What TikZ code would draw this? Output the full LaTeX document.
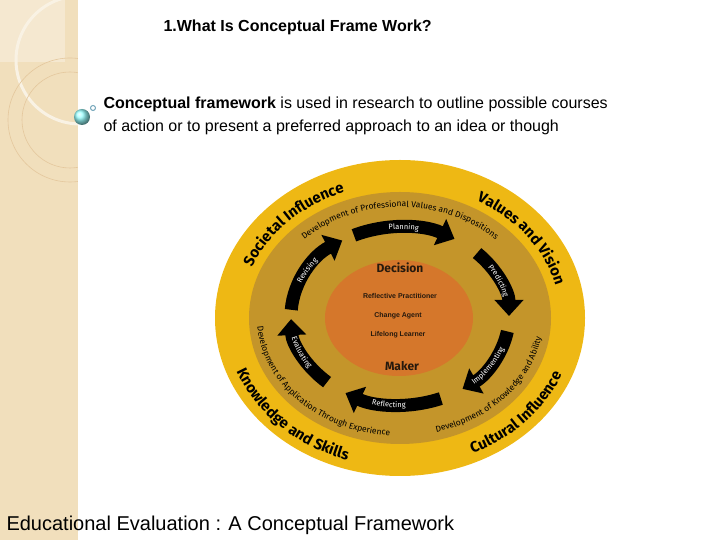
\documentclass[tikz,border=0pt]{standalone}
\usepackage{fontspec}
\setmainfont{Liberation Sans}
\newfontfamily\hand{Fira Sans}
\usetikzlibrary{decorations.text,arrows.meta,calc,shadings}
\definecolor{beige}{HTML}{F1DFBC}
\definecolor{outery}{HTML}{EEB814}
\definecolor{midg}{HTML}{C4952A}
\definecolor{innero}{HTML}{D5772B}
\newcommand\arctext[7]{\path[decorate,decoration={text along path,text align=center,text={|#6|#7}}] ($(#1)+(#4:#2 and #3)$) arc[start angle=#4,end angle=#5,x radius=#2,y radius=#3];}
\newcommand\cyclearrow[3]{\draw[line width=13pt,-{Triangle[width=28pt,length=16pt]}] ($(#1)+(#2:109 and 89)$) arc[start angle=#2,end angle=#3,x radius=109,y radius=89];}
\begin{document}
\begin{tikzpicture}[x=1pt,y=1pt]
\useasboundingbox (0,0) rectangle (720,540);
% left strip
\fill[beige] (0,0) rectangle (78,540);
\begin{scope}
\clip (0,0) rectangle (78,540);
\fill[white,opacity=0.3] (0,478) rectangle (65,540);
\draw[white!60!beige,line width=3pt] (80,480) circle (64);
\draw[beige!75!brown,line width=0.6pt] (70,420) circle (48);
\draw[beige!75!brown,line width=0.6pt] (70,420) circle (62);
\end{scope}
\draw[white,line width=1pt] (78,0) -- (78,540);
\shade[ball color=cyan!40!white] (82,423) circle (8);
\draw[cyan!40!gray,line width=1pt] (93,432) circle (2.5);
% title and body
\node[font=\bfseries\fontsize{16}{19}\selectfont,anchor=west] (title) at (160,513) {1.What Is Conceptual Frame Work?};
\node[font=\fontsize{16}{19}\selectfont,anchor=west] (l1) at (100,436) {\textbf{Conceptual framework} is used in research to outline possible courses};
\node[font=\fontsize{16}{19}\selectfont,anchor=west] (l2) at (100,413) {of action or to present a preferred approach to an idea or though};
\node[font=\fontsize{20}{23}\selectfont,anchor=west] (foot) at (3,15) {Educational Evaluation : A Conceptual Framework};
% diagram
\coordinate (C) at (400,222);
\coordinate (A) at (400,224);
\fill[outery] (C) ellipse [x radius=185,y radius=158];
\fill[midg] (C) ellipse [x radius=151,y radius=126];
\fill[innero] (399,222) ellipse [x radius=74,y radius=58];
% outer ring texts
\arctext{C}{160}{134}{172}{98}{\hand\bfseries\fontsize{15}{15}\selectfont}{Societal Influence}
\arctext{C}{160}{134}{80}{-8}{\hand\bfseries\fontsize{15}{15}\selectfont}{Values and Vision}
\arctext{C}{175}{149}{190}{262}{\hand\bfseries\fontsize{15}{15}\selectfont}{Knowledge and Skills}
\arctext{C}{175}{149}{282}{352}{\hand\bfseries\fontsize{15}{15}\selectfont}{Cultural Influence}
% middle ring texts
\arctext{C}{135}{111}{165}{15}{\hand\fontsize{8.5}{8.5}\selectfont}{Development of Professional Values and Dispositions}
\arctext{C}{143}{118}{165}{282}{\hand\fontsize{8.5}{8.5}\selectfont}{Development of Application Through Experience}
\arctext{C}{143}{118}{262}{378}{\hand\fontsize{8.5}{8.5}\selectfont}{Development of Knowledge and Ability}
% cycle arrows
\cyclearrow{A}{115}{60}
\cyclearrow{A}{45}{0}
\cyclearrow{A}{-10}{-55}
\cyclearrow{A}{-68}{-120}
\cyclearrow{A}{-132}{-178}
\cyclearrow{A}{176}{122}
\newcommand\lf{\color{white}\hand\fontsize{7.5}{7.5}\selectfont}
\arctext{A}{106.5}{86.5}{108}{68}{\lf}{Planning}
\arctext{A}{106.5}{86.5}{42}{4}{\lf}{Predicting}
\arctext{A}{111.5}{91.5}{-58}{-10}{\lf}{Implementing}
\arctext{A}{111.5}{91.5}{-118}{-74}{\lf}{Reflecting}
\arctext{A}{111.5}{91.5}{-176}{-136}{\lf}{Evaluating}
\arctext{A}{106.5}{86.5}{172}{128}{\lf}{Revising}
% centre
\node[font=\hand\bfseries\fontsize{12}{12}\selectfont,text=black!80!brown] (dec) at (400,272) {Decision};
\node[font=\bfseries\fontsize{7}{8}\selectfont,text=black!80!brown] (rp) at (400,244) {Reflective Practitioner};
\node[font=\bfseries\fontsize{7}{8}\selectfont,text=black!80!brown] (ca) at (398,224) {Change Agent};
\node[font=\bfseries\fontsize{7}{8}\selectfont,text=black!80!brown] (ll) at (398,205) {Lifelong Learner};
\node[font=\hand\bfseries\fontsize{12}{12}\selectfont,text=black!80!brown] (mk) at (402,174) {Maker};
\end{tikzpicture}
\end{document}
